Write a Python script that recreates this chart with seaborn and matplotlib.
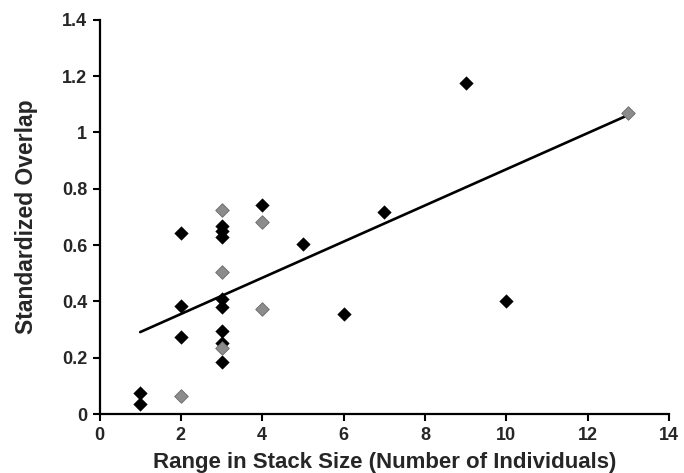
import pandas as pd
import seaborn as sns
import matplotlib.pyplot as plt

# black diamonds
black_x = [1, 1, 2, 2, 2, 3, 3, 3, 3, 3, 3, 3, 3, 4, 5, 6, 7, 9, 10]
black_y = [0.075, 0.036, 0.644, 0.385, 0.274, 0.667, 0.649, 0.628, 0.409,
           0.380, 0.295, 0.252, 0.186, 0.743, 0.603, 0.356, 0.716, 1.174, 0.402]

# grey diamonds
grey_x = [2, 3, 3, 3, 4, 4, 13]
grey_y = [0.065, 0.726, 0.505, 0.236, 0.683, 0.374, 1.070]

# trend line as drawn
trend_x = [1, 13]
trend_y = [0.291, 1.062]

df = pd.concat([
    pd.DataFrame({"x": black_x, "y": black_y, "grp": "black"}),
    pd.DataFrame({"x": grey_x, "y": grey_y, "grp": "grey"}),
])

sns.set_style("ticks")
plt.rcParams["font.family"] = ["Liberation Sans", "DejaVu Sans"]
plt.rcParams["font.weight"] = "bold"

fig, ax = plt.subplots(figsize=(6.84, 4.73), dpi=100)
fig.subplots_adjust(left=0.1455, right=0.978, bottom=0.1247, top=0.958)

sns.lineplot(x=trend_x, y=trend_y, ax=ax, color="black", linewidth=1.9, zorder=2)
sns.scatterplot(data=df[df.grp == "black"], x="x", y="y", ax=ax, marker="D",
                s=48, color="black", edgecolor="black", linewidth=0.3, zorder=3)
sns.scatterplot(data=df[df.grp == "grey"], x="x", y="y", ax=ax, marker="D",
                s=48, color="#8c8c8c", edgecolor="#6a6a6a", linewidth=0.6, zorder=3)

ax.set_xlim(0, 14)
ax.set_ylim(0, 1.4)
ax.set_xticks(range(0, 15, 2))
ax.set_yticks([0, 0.2, 0.4, 0.6, 0.8, 1.0, 1.2, 1.4])
ax.set_yticklabels(["0", "0.2", "0.4", "0.6", "0.8", "1", "1.2", "1.4"])
ax.tick_params(axis="both", labelsize=13, width=1.5, length=5, color="black", pad=4)
for lbl in ax.get_xticklabels() + ax.get_yticklabels():
    lbl.set_fontweight("bold")

sns.despine(ax=ax)
for sp in ("left", "bottom"):
    ax.spines[sp].set_linewidth(1.6)
    ax.spines[sp].set_color("black")

ax.set_xlabel("Range in Stack Size (Number of Individuals)", fontsize=16,
              fontweight="bold", labelpad=6)
ax.set_ylabel("Standardized Overlap", fontsize=16.5, fontweight="bold", labelpad=17)

plt.savefig("out.png", dpi=100)
plt.close()
